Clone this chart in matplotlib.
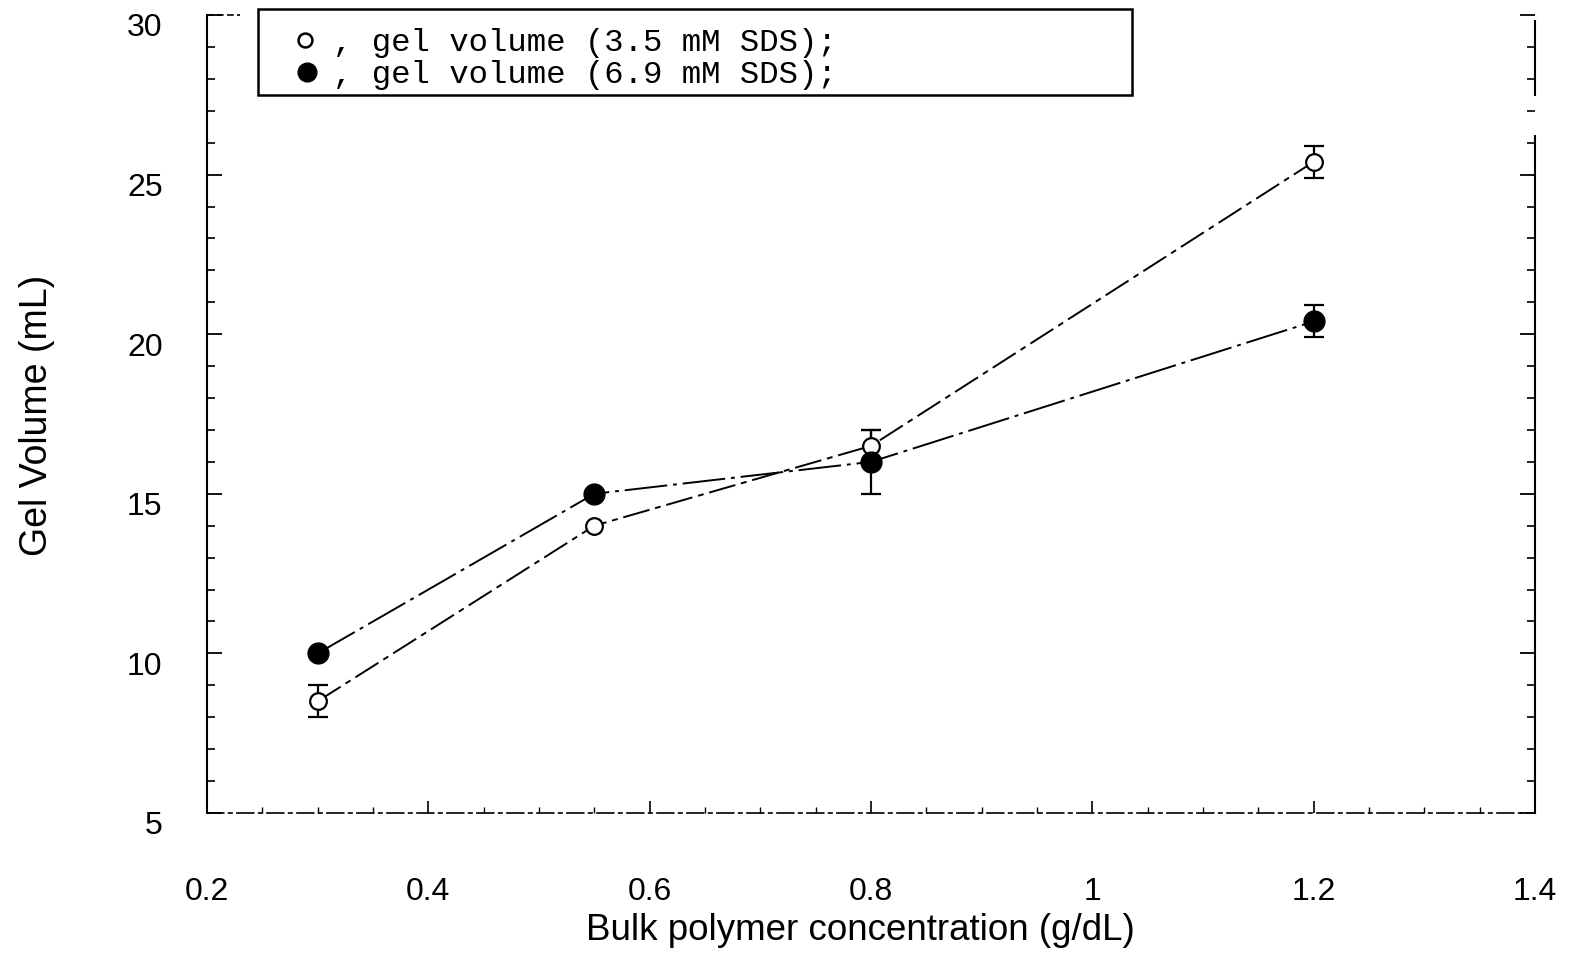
import matplotlib
matplotlib.use("Agg")
import matplotlib.pyplot as plt
from matplotlib.patches import Rectangle
from matplotlib.lines import Line2D
from matplotlib.ticker import MultipleLocator, FixedLocator
import matplotlib.transforms as mtransforms

# ---- data ----
conc = [0.3, 0.55, 0.8, 1.2]
vol_35 = [8.5, 14.0, 16.5, 25.4]
err_35 = [0.5, 0.0, 0.5, 0.5]
vol_69 = [10.0, 15.0, 16.0, 20.4]
err_69 = [0.0, 0.0, 1.0, 0.5]
xticks = [0.2, 0.4, 0.6, 0.8, 1.0, 1.2, 1.4]
xticklabels = ["0.2", "0.4", "0.6", "0.8", "1", "1.2", "1.4"]
yticks = [5, 10, 15, 20, 25, 30]
legend_labels = [", gel volume (3.5 mM SDS);", ", gel volume (6.9 mM SDS);"]

W, H = 1571, 959
fig = plt.figure(figsize=(W / 100, H / 100), dpi=100)
fig.patch.set_facecolor("white")

def fx(px):
    return px / W

def fy(py):
    return 1 - py / H

left, right, top, bottom = 207, 1535, 15, 813
ax = fig.add_axes([fx(left), fy(bottom), fx(right) - fx(left), fy(top) - fy(bottom)])
ax.set_xlim(0.2, 1.4)
ax.set_ylim(5, 30)

sans = ["Liberation Sans", "DejaVu Sans"]

# lines
ax.plot(conc, vol_35, color="black", lw=1.4, ls=(0, (14, 3, 3, 3)), zorder=2)
ax.plot(conc, vol_69, color="black", lw=1.4, ls=(0, (22, 3, 2, 3)), zorder=2)

# error bars (only where nonzero)
for xs, ys, es in [(conc, vol_35, err_35), (conc, vol_69, err_69)]:
    ex = [x for x, e in zip(xs, es) if e > 0]
    ey = [y for y, e in zip(ys, es) if e > 0]
    ee = [e for e in es if e > 0]
    ax.errorbar(ex, ey, yerr=ee, fmt="none", ecolor="black", elinewidth=1.6,
                capsize=7, capthick=1.6, zorder=3)

ax.plot(conc, vol_35, ls="none", marker="o", ms=12, mfc="white", mec="black",
        mew=1.6, zorder=4)
ax.plot(conc, vol_69, ls="none", marker="o", ms=15, mfc="black", mec="black",
        zorder=4)

# spines
ax.spines["top"].set_visible(False)
ax.spines["left"].set_linewidth(1.5)
ax.spines["bottom"].set_linewidth(1.2)
ax.spines["bottom"].set_linestyle((0, (10, 3, 2, 3)))
ax.spines["right"].set_linewidth(1.5)
ax.spines["right"].set_bounds(5, 26.2)
ax.add_line(Line2D([1.4, 1.4], [27.5, 29.8], color="black", lw=1.5,
                   clip_on=False))
ax.add_line(Line2D([0.2, 0.23], [30, 30], color="black", lw=1.2,
                   ls=(0, (4, 2)), clip_on=False))

# ticks
ax.xaxis.set_major_locator(FixedLocator(xticks))
ax.set_xticklabels(xticklabels)
ax.xaxis.set_minor_locator(MultipleLocator(0.05))
ax.yaxis.set_major_locator(FixedLocator(yticks))
ax.yaxis.set_minor_locator(MultipleLocator(1))
ax.tick_params(axis="y", which="major", direction="in", length=11, width=1.3,
               left=True, right=True, pad=32, labelsize=23)
ax.tick_params(axis="y", which="minor", direction="in", length=6, width=1.2,
               left=True, right=True)
ax.tick_params(axis="x", which="major", direction="in", length=9, width=1.2,
               pad=46, labelsize=23)
ax.tick_params(axis="x", which="minor", direction="in", length=4, width=1.0)
for lab in ax.get_xticklabels() + ax.get_yticklabels():
    lab.set_family(sans)
offset = mtransforms.ScaledTranslation(0, -10 / 100, fig.dpi_scale_trans)
for lab in ax.get_yticklabels():
    lab.set_transform(lab.get_transform() + offset)

# axis labels
fig.text(fx(37), fy(415), "Gel Volume (mL)", rotation=90, ha="center",
         va="center", fontsize=27, family=sans)
fig.text(fx(860), fy(930), "Bulk polymer concentration (g/dL)", ha="center",
         va="center", fontsize=26.5, family=sans)

# legend box
rect = Rectangle((fx(258), fy(95)), fx(1132) - fx(258), fy(9) - fy(95),
                 transform=fig.transFigure, facecolor="white",
                 edgecolor="black", lw=1.8, zorder=10)
fig.add_artist(rect)
fig.add_artist(Line2D([fx(305)], [fy(40)], marker="o", ms=10, mfc="white",
                      mec="black", mew=1.8, ls="none",
                      transform=fig.transFigure, zorder=11))
fig.add_artist(Line2D([fx(307)], [fy(72)], marker="o", ms=13.5, mfc="black",
                      mec="black", ls="none", transform=fig.transFigure,
                      zorder=11))
mono = ["Liberation Mono", "DejaVu Sans Mono"]
fig.text(fx(333), fy(43), legend_labels[0], ha="left", va="center",
         fontsize=23.3, family=mono, zorder=12)
fig.text(fx(333), fy(75), legend_labels[1], ha="left", va="center",
         fontsize=23.3, family=mono, zorder=12)

fig.savefig("out.png", dpi=100, facecolor="white")
